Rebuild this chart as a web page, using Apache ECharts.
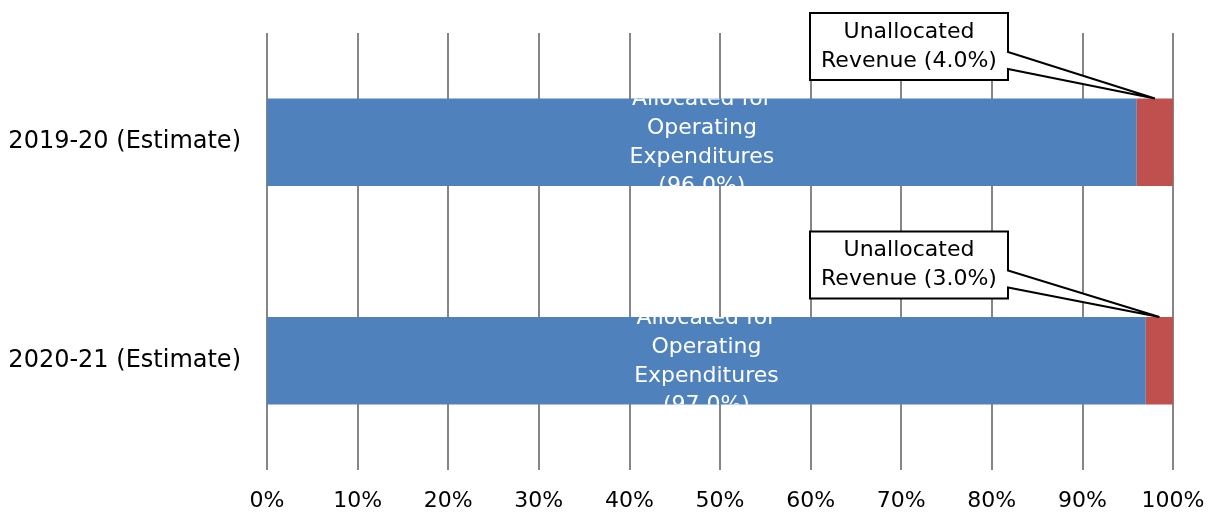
<!DOCTYPE html>
<html>
<head>
    <meta charset="utf-8">
    <title>Revenue allocation</title>
    <script src="https://cdn.jsdelivr.net/npm/echarts@6/dist/echarts.min.js"></script>
    <style type="text/css">
        html, body { margin: 0; padding: 0; background: #fff; }
        #main { width: 1209px; height: 515px; }
    </style>
</head>
<body>
    <div id="main"></div>
    <script type="text/javascript">
        // data
        var categories = ['2019-20 (Estimate)', '2020-21 (Estimate)'];
        var allocated = [96.0, 97.0];
        var unallocated = [4.0, 3.0];
        var tickLabels = ['0%', '10%', '20%', '30%', '40%', '50%', '60%', '70%', '80%', '90%', '100%'];

        var FONT = '"DejaVu Sans", sans-serif';
        var BAR_RATIO = 0.4;

        var myChart = echarts.init(document.getElementById('main'));

        // white label inside the blue bar, clipped to the bar like the original
        function renderInside(params, api) {
            var i = api.value(1);
            var start = api.coord([0, i]);
            var end = api.coord([api.value(0), i]);
            var h = api.size([0, 1])[1] * BAR_RATIO;
            return {
                type: 'group',
                clipPath: {
                    type: 'rect',
                    shape: { x: start[0], y: start[1] - h / 2, width: end[0] - start[0], height: h }
                },
                children: [{
                    type: 'text',
                    x: (start[0] + end[0]) / 2,
                    y: start[1] + 1,
                    style: {
                        text: 'Allocated for\nOperating\nExpenditures\n(' + api.value(0).toFixed(1) + '%)',
                        fill: '#fff',
                        font: '22px ' + FONT,
                        align: 'center',
                        verticalAlign: 'middle',
                        lineHeight: 29
                    }
                }]
            };
        }

        // callout box pointing at the red segment
        function renderCallout(params, api) {
            var i = api.value(1);
            var v = api.value(0);
            var h = api.size([0, 1])[1] * BAR_RATIO;
            var tip = api.coord([allocated[i] + v / 2, i]);
            var tipY = tip[1] - h / 2;
            var right = api.coord([100, i])[0] - 165;
            var left = right - 198;
            var bottom = tipY - 18.5;
            var top = bottom - 67;
            return {
                type: 'group',
                children: [{
                    type: 'polygon',
                    shape: {
                        points: [
                            [left, top], [right, top], [right, top + 39],
                            [tip[0], tipY], [right, top + 56],
                            [right, bottom], [left, bottom]
                        ]
                    },
                    style: { fill: '#fff', stroke: '#000', lineWidth: 2 }
                }, {
                    type: 'text',
                    x: (left + right) / 2,
                    y: (top + bottom) / 2,
                    style: {
                        text: 'Unallocated\nRevenue (' + v.toFixed(1) + '%)',
                        fill: '#000',
                        font: '22px ' + FONT,
                        align: 'center',
                        verticalAlign: 'middle',
                        lineHeight: 29
                    }
                }]
            };
        }

        myChart.setOption({
            animation: false,
            grid: { left: 267, right: 36, top: 33, bottom: 45 },
            xAxis: {
                type: 'value',
                min: 0,
                max: 100,
                interval: 10,
                axisLine: { show: false },
                axisTick: { show: false },
                splitLine: { show: true, lineStyle: { color: '#868686', width: 2 } },
                axisLabel: {
                    margin: 20,
                    color: '#000',
                    fontSize: 22,
                    fontFamily: FONT,
                    formatter: function (val) { return tickLabels[Math.round(val / 10)]; }
                }
            },
            yAxis: {
                type: 'category',
                data: categories,
                inverse: true,
                axisLine: { show: false },
                axisTick: { show: false },
                axisLabel: { margin: 26, color: '#000', fontSize: 24, fontFamily: FONT }
            },
            series: [{
                name: 'Allocated for Operating Expenditures',
                type: 'bar',
                stack: 'total',
                barWidth: '40%',
                data: allocated,
                itemStyle: { color: '#4F81BD' }
            }, {
                name: 'Unallocated Revenue',
                type: 'bar',
                stack: 'total',
                barWidth: '40%',
                data: unallocated,
                itemStyle: { color: '#C0504D' }
            }, {
                type: 'custom',
                silent: true,
                z: 5,
                encode: { x: 0, y: 1 },
                data: allocated.map(function (v, i) { return [v, i]; }),
                renderItem: renderInside
            }, {
                type: 'custom',
                silent: true,
                z: 6,
                encode: { x: 0, y: 1 },
                data: unallocated.map(function (v, i) { return [v, i]; }),
                renderItem: renderCallout
            }]
        });
    </script>
</body>
</html>
